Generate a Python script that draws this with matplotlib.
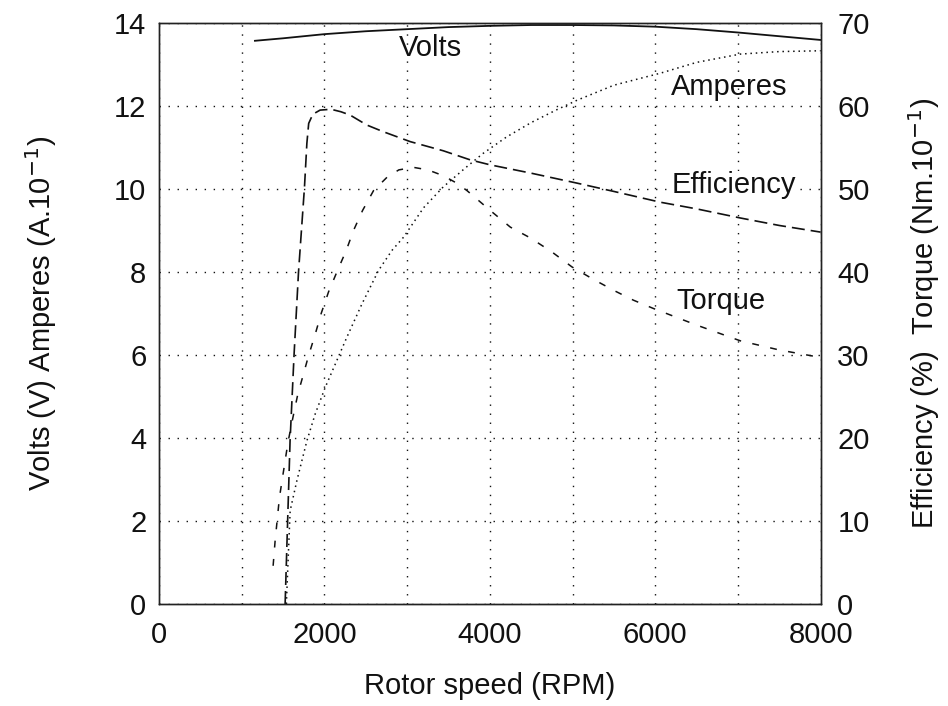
import matplotlib.pyplot as plt
from matplotlib.ticker import MultipleLocator

plt.rcParams["font.family"] = ["Liberation Sans", "DejaVu Sans"]

# rotor speed (RPM) and readings for each curve
volts_rpm = [1160, 1500, 2000, 2500, 3000, 3500, 4000, 4500, 5000, 5500, 6000, 6500, 7000, 7500, 8000]
volts = [13.57, 13.63, 13.73, 13.80, 13.85, 13.90, 13.93, 13.95, 13.95, 13.94, 13.91, 13.85, 13.77, 13.68, 13.59]

amps_rpm = [1540, 1560, 1586, 1667, 1788, 1889, 2010, 2151, 2272, 2454, 2655, 2817, 2958, 3200,
            3437, 3700, 3921, 4200, 4500, 4800, 5057, 5500, 6063, 6500, 7030, 7500, 8000]
amps = [0.0, 1.0, 2.25, 2.97, 3.93, 4.58, 5.22, 5.87, 6.43, 7.23, 8.04, 8.52, 8.84, 9.55,
        10.05, 10.50, 10.86, 11.25, 11.60, 11.90, 12.14, 12.50, 12.79, 13.05, 13.25, 13.31, 13.33]

eff_rpm = [1525, 1585, 1634, 1687, 1759, 1788, 1810, 1860, 1948, 2080, 2200, 2311, 2513, 2711,
           3038, 3437, 3764, 4006, 4500, 5055, 5500, 6063, 6500, 7030, 7500, 8000]
eff = [0.0, 19.7, 30.2, 40.0, 50.2, 55.5, 57.9, 59.0, 59.5, 59.6, 59.3, 58.9, 57.7, 56.9,
       55.7, 54.6, 53.5, 52.9, 51.9, 50.7, 49.7, 48.4, 47.6, 46.5, 45.6, 44.8]

torque_rpm = [1380, 1404, 1456, 1493, 1560, 1620, 1679, 1747, 1808, 1889, 1961, 2050, 2151, 2264,
              2352, 2461, 2594, 2756, 2900, 3078, 3250, 3437, 3600, 3724, 4006, 4248, 4490, 4752,
              4994, 5236, 5494, 5736, 5978, 6500, 7030, 7500, 8000]
torque = [4.6, 7.6, 12.8, 15.2, 19.5, 22.5, 25.3, 27.7, 29.9, 32.5, 35.0, 37.6, 40.0, 42.6,
          45.0, 47.4, 49.8, 51.4, 52.3, 52.6, 52.3, 51.6, 50.7, 49.8, 47.4, 45.4, 44.1, 42.4,
          40.6, 39.2, 37.8, 36.6, 35.6, 33.6, 31.7, 30.6, 29.7]

FS = 21
INK = "#111111"

fig = plt.figure(figsize=(9.48, 7.06), dpi=100)
ax = fig.add_axes([0.1677, 0.1445, 0.698, 0.823])
ax2 = ax.twinx()

ax.plot(volts_rpm, volts, color=INK, lw=1.3, linestyle="-")
ax.plot(amps_rpm, amps, color=INK, lw=1.1, linestyle=(0, (1, 2.5)))
ax2.plot(eff_rpm, eff, color=INK, lw=1.2, linestyle=(0, (7.8, 3.6)))
ax2.plot(torque_rpm, torque, color=INK, lw=1.1, linestyle=(0, (4.5, 7.5)))

ax.set_xlim(0, 8000)
ax.set_ylim(0, 14)
ax2.set_ylim(0, 70)
ax.xaxis.set_major_locator(MultipleLocator(2000))
ax.xaxis.set_minor_locator(MultipleLocator(1000))
ax.yaxis.set_major_locator(MultipleLocator(2))
ax2.yaxis.set_major_locator(MultipleLocator(10))

ax.grid(which="both", axis="x", color=INK, lw=1.0, linestyle=(0, (1, 5.5)))
ax.grid(which="major", axis="y", color=INK, lw=1.0, linestyle=(0, (1, 5.5)))

for a in (ax, ax2):
    a.tick_params(which="both", length=0, labelsize=FS, colors=INK)
    for s in a.spines.values():
        s.set_color("#222222")
        s.set_linewidth(1.0)
ax.tick_params(axis="x", pad=12)
ax.tick_params(axis="y", pad=9)
ax2.tick_params(axis="y", pad=12)

ax.set_xlabel("Rotor speed (RPM)", fontsize=FS, color=INK, labelpad=17)
ax.set_ylabel("Volts (V) Amperes (A.10$^{-1}$)", fontsize=FS, color=INK, labelpad=40)
ax2.set_ylabel("Efficiency (%)  Torque (Nm.10$^{-1}$)", fontsize=FS, color=INK, labelpad=26)

ax.text(3281, 13.4, "Volts", fontsize=FS, color=INK, ha="center", va="center")
ax.text(6889, 12.45, "Amperes", fontsize=FS, color=INK, ha="center", va="center")
ax.text(6949, 10.09, "Efficiency", fontsize=FS, color=INK, ha="center", va="center",
        bbox=dict(facecolor="white", edgecolor="none", pad=0.5))
ax.text(6792, 7.31, "Torque", fontsize=FS, color=INK, ha="center", va="center")

fig.savefig("out.png", dpi=100)
